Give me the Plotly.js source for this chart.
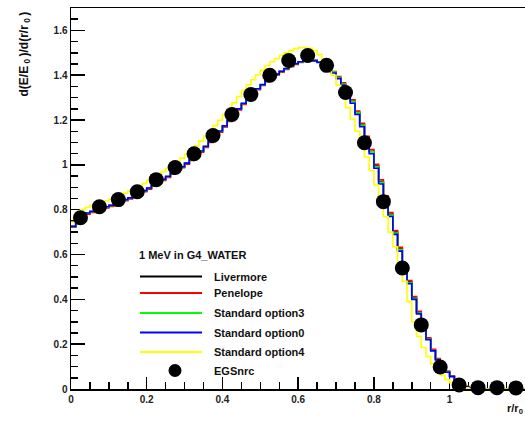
<!DOCTYPE html>
<html>
<head>
<meta charset="utf-8">
<script src="https://cdn.plot.ly/plotly-3.0.1.min.js"></script>
<style>html,body{margin:0;padding:0;background:#fff;}#chart{width:525px;height:435px;}</style>
</head>
<body>
<div id="chart"></div>
<script>
// Histogram binning (r/r0), 96 bins of width 0.0125 from 0 to 1.2
const binWidth = 0.0125;
const nBins = 96;

const livermore = [
0.726,0.758,0.772,0.783,0.791,0.798,0.805,0.811,0.818,0.826,
0.834,0.843,0.851,0.860,0.871,0.883,0.895,0.908,0.921,0.934,
0.947,0.961,0.975,0.990,1.006,1.023,1.041,1.060,1.081,1.103,
1.126,1.149,1.172,1.197,1.223,1.248,1.273,1.296,1.318,1.338,
1.357,1.374,1.390,1.404,1.417,1.429,1.441,1.451,1.459,1.465,
1.467,1.465,1.458,1.447,1.432,1.413,1.389,1.360,1.326,1.283,
1.233,1.179,1.120,1.060,0.995,0.925,0.855,0.780,0.700,0.625,
0.550,0.478,0.408,0.342,0.281,0.225,0.175,0.134,0.103,0.078,
0.057,0.036,0.021,0.011,0.005,0.002,0,0,0,0,
0,0,0,0,0,0
];
const penelope = [
0.722,0.755,0.770,0.780,0.788,0.795,0.801,0.808,0.815,0.823,
0.831,0.840,0.848,0.857,0.868,0.880,0.892,0.905,0.918,0.931,
0.944,0.958,0.972,0.987,1.003,1.020,1.038,1.057,1.078,1.100,
1.123,1.146,1.169,1.194,1.220,1.245,1.270,1.293,1.315,1.335,
1.354,1.371,1.387,1.401,1.414,1.426,1.438,1.448,1.457,1.463,
1.466,1.465,1.459,1.449,1.435,1.417,1.394,1.366,1.333,1.290,
1.240,1.186,1.127,1.068,1.003,0.933,0.862,0.787,0.707,0.632,
0.556,0.484,0.413,0.347,0.285,0.228,0.177,0.136,0.105,0.079,
0.058,0.037,0.021,0.011,0.005,0.002,0,0,0,0,
0,0,0,0,0,0
];
const option3 = [
0.724,0.759,0.774,0.784,0.792,0.799,0.805,0.812,0.819,0.827,
0.835,0.844,0.852,0.861,0.872,0.884,0.896,0.909,0.922,0.935,
0.948,0.962,0.976,0.991,1.007,1.024,1.042,1.061,1.082,1.104,
1.127,1.150,1.173,1.198,1.224,1.249,1.274,1.297,1.319,1.339,
1.357,1.374,1.390,1.404,1.417,1.429,1.441,1.451,1.459,1.465,
1.467,1.465,1.458,1.447,1.433,1.414,1.390,1.361,1.327,1.283,
1.233,1.178,1.118,1.058,0.992,0.922,0.851,0.776,0.696,0.621,
0.545,0.475,0.405,0.339,0.278,0.222,0.172,0.131,0.101,0.076,
0.056,0.035,0.020,0.010,0.005,0.002,0,0,0,0,
0,0,0,0,0,0
];
const option0 = [
0.725,0.760,0.775,0.785,0.793,0.800,0.806,0.813,0.820,0.828,
0.836,0.845,0.853,0.862,0.873,0.885,0.897,0.910,0.923,0.936,
0.949,0.963,0.977,0.992,1.008,1.025,1.043,1.062,1.083,1.105,
1.128,1.151,1.174,1.199,1.225,1.250,1.275,1.298,1.320,1.340,
1.358,1.375,1.391,1.405,1.418,1.430,1.442,1.452,1.460,1.466,
1.468,1.465,1.457,1.445,1.430,1.410,1.385,1.355,1.320,1.275,
1.225,1.170,1.110,1.050,0.985,0.915,0.845,0.770,0.690,0.615,
0.540,0.470,0.400,0.335,0.275,0.220,0.170,0.130,0.100,0.075,
0.055,0.035,0.020,0.010,0.005,0.002,0,0,0,0,
0,0,0,0,0,0
];
const option4 = [
0.745,0.790,0.800,0.810,0.818,0.825,0.832,0.840,0.848,0.856,
0.865,0.874,0.884,0.894,0.905,0.917,0.930,0.943,0.957,0.970,
0.984,0.999,1.014,1.030,1.047,1.065,1.085,1.106,1.128,1.151,
1.175,1.199,1.225,1.250,1.277,1.305,1.332,1.357,1.380,1.402,
1.423,1.442,1.460,1.475,1.489,1.500,1.510,1.518,1.523,1.524,
1.520,1.510,1.492,1.468,1.440,1.400,1.355,1.305,1.255,1.205,
1.150,1.095,1.035,0.975,0.910,0.840,0.770,0.700,0.635,0.560,
0.480,0.390,0.300,0.235,0.185,0.145,0.112,0.083,0.060,0.042,
0.028,0.017,0.010,0.005,0.002,0,0,0,0,0,
0,0,0,0,0,0
];

// EGSnrc reference points
const egsX = [0.025,0.075,0.125,0.175,0.225,0.275,0.325,0.375,0.425,0.475,0.525,0.575,
              0.625,0.675,0.725,0.775,0.825,0.875,0.925,0.975,1.025,1.075,1.125,1.175];
const egsY = [0.764,0.813,0.845,0.880,0.934,0.988,1.050,1.131,1.225,1.314,1.400,1.466,
              1.488,1.444,1.323,1.099,0.836,0.540,0.286,0.098,0.018,0.006,0.006,0.005];

const seriesNames = ["Livermore","Penelope","Standard option3","Standard option0","Standard option4"];
const seriesColors = ["#000000","#ff0000","#00ff00","#0000ff","#ffff00"];
const seriesData = [livermore, penelope, option3, option0, option4];
const header = "1 MeV in G4_WATER";
const markerName = "EGSnrc";

const edges = [];
for (let i = 0; i <= nBins; i++) edges.push(+(i * binWidth).toFixed(5));

const traces = seriesData.map((vals, i) => ({
  type: 'scatter', mode: 'lines', name: seriesNames[i],
  x: edges, y: vals.concat([vals[vals.length - 1]]),
  line: {shape: 'hv', color: seriesColors[i], width: 1.6},
  showlegend: false, hoverinfo: 'skip'
}));
traces.push({
  type: 'scatter', mode: 'markers', name: markerName,
  x: egsX, y: egsY, cliponaxis: false,
  marker: {color: '#000', size: 15, symbol: 'circle'},
  showlegend: false
});

// Custom ROOT-like legend
const L = 71, W = 454, B = 389, H = 381;
const px = v => (v - L) / W;
const py = v => (B - v) / H;
const rowY = [276.5, 293, 313, 332.5, 352, 370.5];
const txtFont = {family: 'Liberation Sans, Arial, sans-serif', size: 11, color: '#111'};

const shapes = [];
const annotations = [];
annotations.push({xref:'paper', yref:'paper', x: px(137), y: py(255), xanchor:'left', yanchor:'middle',
  text: '<b>' + header + '</b>', showarrow:false, font: txtFont});
seriesNames.forEach((n, i) => {
  shapes.push({type:'line', xref:'paper', yref:'paper', x0: px(140), x1: px(202), y0: py(rowY[i]), y1: py(rowY[i]),
    line:{color: seriesColors[i], width: 1.8}});
  annotations.push({xref:'paper', yref:'paper', x: px(212), y: py(rowY[i]), xanchor:'left', yanchor:'middle',
    text: '<b>' + n + '</b>', showarrow:false, font: txtFont});
});
shapes.push({type:'circle', xref:'paper', yref:'paper', xsizemode:'pixel', ysizemode:'pixel',
  xanchor: px(175), yanchor: py(rowY[5]), x0:-6.5, x1:6.5, y0:-6.5, y1:6.5,
  fillcolor:'#000', line:{width:0}});
annotations.push({xref:'paper', yref:'paper', x: px(212), y: py(rowY[5]), xanchor:'left', yanchor:'middle',
  text: '<b>' + markerName + '</b>', showarrow:false, font: txtFont});
// Axis titles (ROOT style: at the ends of the axes)
annotations.push({xref:'paper', yref:'paper', x: px(24), y: 1, yshift: -2, xanchor:'center', yanchor:'top',
  textangle: -90, text:'<b>d(E/E<sub> 0 </sub>)/d(r/r<sub> 0 </sub>)</b>', showarrow:false,
  font: {family: 'Liberation Sans, Arial, sans-serif', size: 12, color: '#111'}});
annotations.push({xref:'paper', yref:'paper', x: 1, y: py(409), xanchor:'right', yanchor:'middle',
  text:'<b>r/r<sub>0</sub></b>', showarrow:false, font: txtFont});

const tickFont = {family: 'Liberation Sans, Arial, sans-serif', size: 10, color: '#222', weight: 'bold'};
const axisCommon = {
  showline: true, linecolor: '#000', linewidth: 1.5, mirror: true,
  ticks: 'inside', tickcolor: '#000', tickwidth: 1.5, tick0: 0, dtick: 0.2,
  showgrid: false, zeroline: false, tickfont: tickFont, layer: 'below traces',
  minor: {ticks: 'inside', dtick: 0.05, tick0: 0, ticklen: 7, tickwidth: 1.5, tickcolor: '#000', showgrid: false}
};
const layout = {
  width: 525, height: 435,
  margin: {l: 71, r: 0, t: 8, b: 46, pad: 0},
  paper_bgcolor: '#fff', plot_bgcolor: '#fff',
  showlegend: false,
  xaxis: Object.assign({}, axisCommon, {range: [0, 1.199], ticklen: 12}),
  yaxis: Object.assign({}, axisCommon, {range: [0, 1.7], ticklen: 14}),
  shapes: shapes, annotations: annotations
};
Plotly.newPlot('chart', traces, layout, {staticPlot: true, displayModeBar: false});
</script>
</body>
</html>
